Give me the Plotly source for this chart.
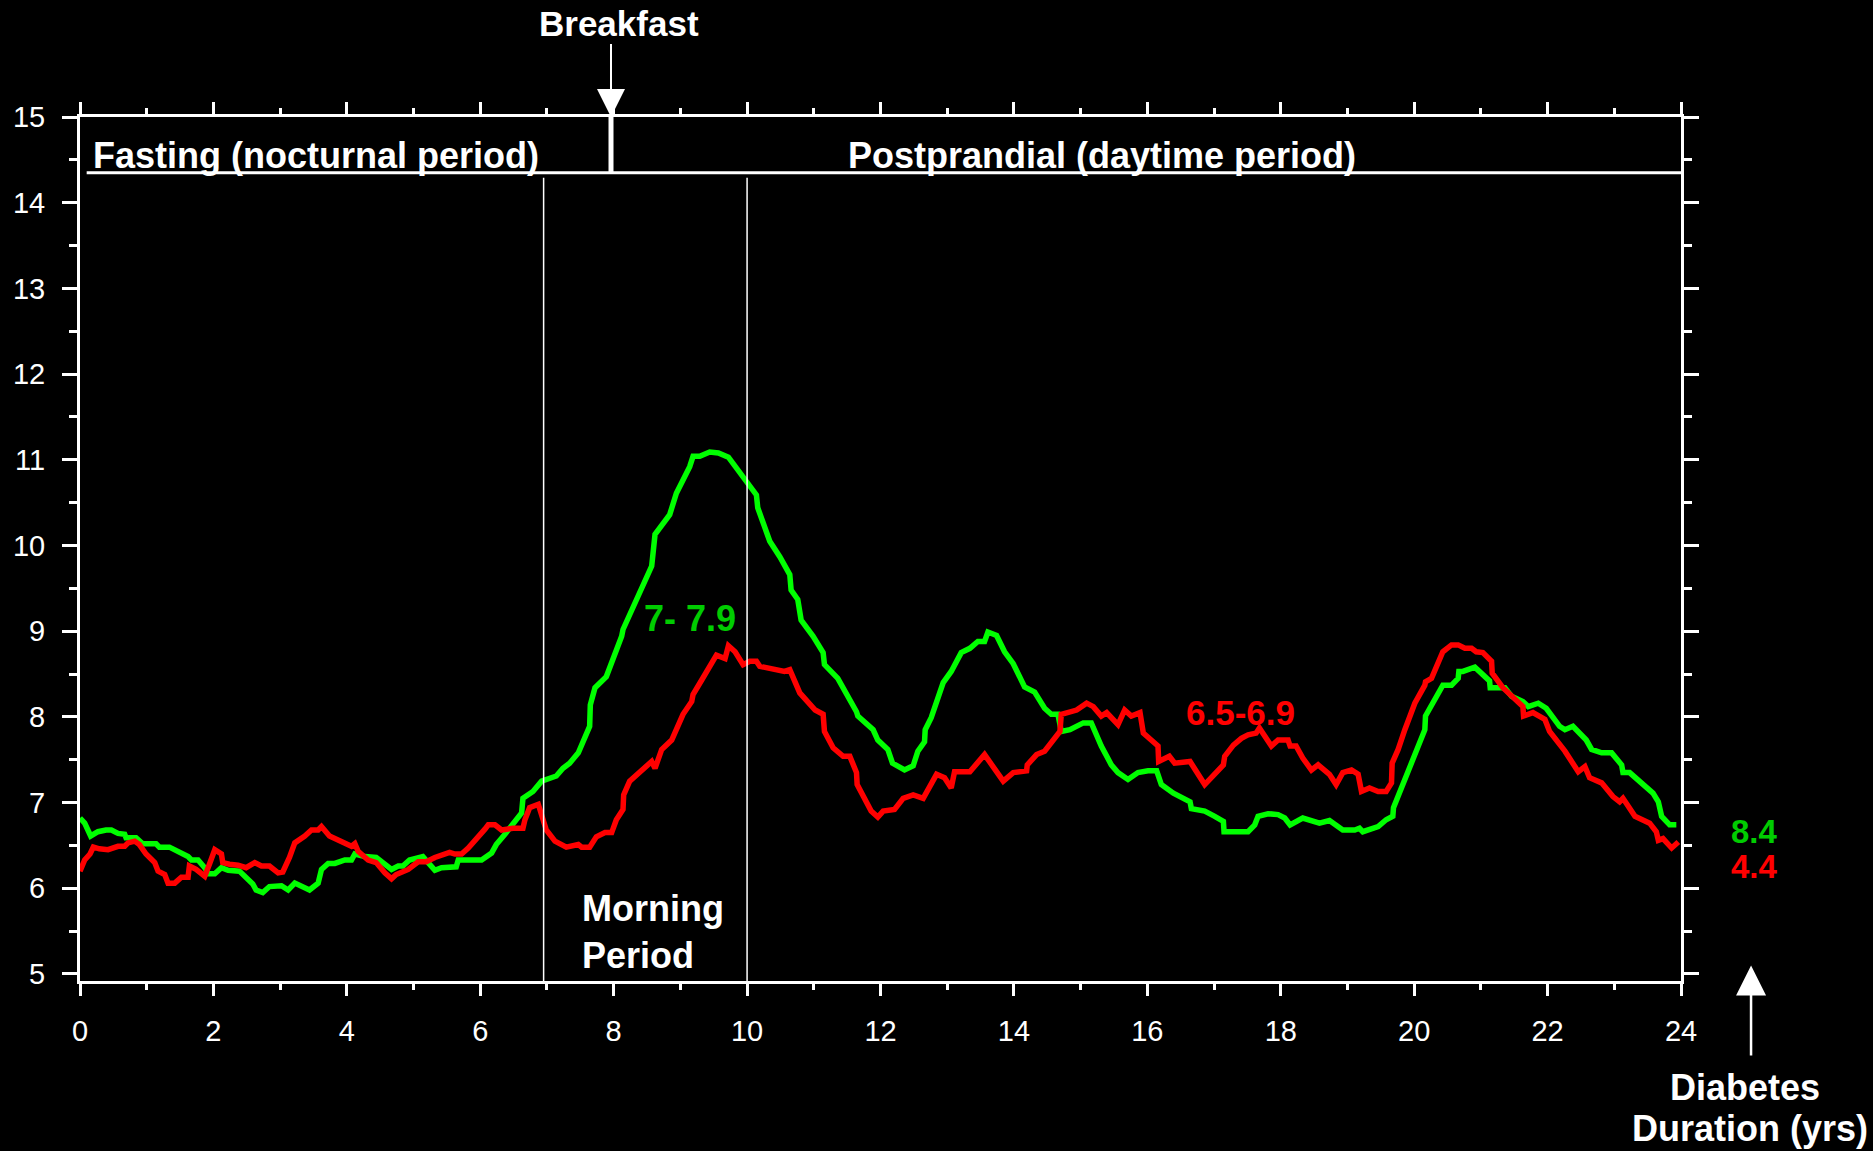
import plotly.graph_objects as go

# ---- data (hour of day, mmol/L) ----
green_x = [0.00,0.07,0.16,0.27,0.39,0.47,0.57,0.67,0.69,0.84,0.94,1.14,1.19,1.34,1.62,1.67,1.77,1.87,1.92,2.02,
           2.12,2.22,2.39,2.49,2.59,2.64,2.74,2.84,3.02,3.12,3.22,3.44,3.57,3.62,3.72,3.82,3.97,4.07,4.12,4.27,
           4.44,4.67,4.77,4.84,4.94,5.14,5.22,5.32,5.42,5.64,5.67,6.02,6.17,6.24,6.37,6.49,6.62,6.64,6.79,6.92,
           7.14,7.24,7.34,7.47,7.59,7.64,7.65,7.72,7.89,7.99,8.12,8.14,8.34,8.47,8.57,8.62,8.77,8.84,8.94,9.14,
           9.19,9.29,9.44,9.57,9.72,9.99,10.14,10.16,10.29,10.34,10.49,10.64,10.66,10.76,10.81,10.99,11.14,11.16,11.36,11.49,
           11.64,11.66,11.89,11.96,12.11,12.18,12.36,12.49,12.56,12.66,12.67,12.76,12.94,13.06,13.21,13.34,13.46,13.56,13.61,13.74,
           13.86,13.99,14.16,14.31,14.46,14.56,14.66,14.71,14.84,15.04,15.16,15.31,15.46,15.56,15.71,15.86,16.01,16.14,16.21,16.39,
           16.64,16.66,16.86,17.01,17.14,17.15,17.51,17.61,17.66,17.81,17.96,18.06,18.14,18.33,18.58,18.73,18.93,19.11,19.18,19.23,
           19.36,19.46,19.58,19.68,19.69,19.88,20.03,20.16,20.17,20.31,20.43,20.56,20.66,20.67,20.73,20.91,21.03,21.13,21.14,21.36,
           21.46,21.63,21.71,21.86,21.98,22.18,22.26,22.38,22.58,22.66,22.81,22.96,23.11,23.13,23.23,23.58,23.66,23.71,23.83,23.93]
green_y = [6.82,6.76,6.61,6.66,6.68,6.68,6.64,6.63,6.59,6.59,6.52,6.52,6.48,6.48,6.37,6.33,6.33,6.24,6.17,6.17,
           6.24,6.21,6.20,6.12,6.05,5.98,5.95,6.02,6.03,5.98,6.06,5.98,6.06,6.22,6.29,6.29,6.33,6.33,6.40,6.37,
           6.36,6.22,6.26,6.26,6.33,6.37,6.29,6.21,6.24,6.25,6.33,6.33,6.41,6.51,6.63,6.76,6.88,7.05,7.13,7.25,
           7.31,7.40,7.46,7.58,7.83,7.89,8.14,8.34,8.47,8.67,8.94,9.02,9.37,9.56,9.76,10.13,10.28,10.36,10.61,10.92,
           11.04,11.04,11.09,11.08,11.03,10.75,10.59,10.44,10.18,10.05,9.87,9.66,9.48,9.37,9.13,8.94,8.75,8.61,8.45,8.28,
           8.06,8.01,7.85,7.73,7.62,7.46,7.38,7.43,7.60,7.71,7.85,7.99,8.40,8.53,8.75,8.80,8.88,8.88,8.99,8.95,
           8.76,8.62,8.35,8.29,8.10,8.03,8.03,7.83,7.85,7.93,7.93,7.66,7.44,7.35,7.27,7.35,7.37,7.37,7.21,7.11,
           7.01,6.93,6.90,6.84,6.78,6.66,6.66,6.74,6.84,6.87,6.86,6.82,6.74,6.82,6.76,6.79,6.68,6.68,6.70,6.66,
           6.70,6.72,6.80,6.84,6.94,7.31,7.60,7.85,8.01,8.20,8.37,8.37,8.45,8.53,8.53,8.58,8.50,8.42,8.34,8.34,
           8.24,8.18,8.12,8.16,8.10,7.89,7.85,7.89,7.73,7.62,7.58,7.58,7.44,7.35,7.35,7.11,7.01,6.84,6.74,6.74]

red_x = [0.00,0.07,0.15,0.20,0.29,0.42,0.57,0.67,0.72,0.82,0.89,0.99,1.12,1.17,1.27,1.32,1.42,1.52,1.62,1.64,
         1.74,1.87,1.94,2.02,2.12,2.14,2.24,2.37,2.49,2.62,2.72,2.84,2.97,3.04,3.14,3.22,3.37,3.47,3.57,3.62,
         3.74,3.92,4.07,4.12,4.17,4.32,4.44,4.57,4.67,4.74,4.92,5.07,5.19,5.32,5.54,5.62,5.72,5.82,5.92,6.07,
         6.12,6.22,6.32,6.49,6.64,6.67,6.74,6.87,6.99,7.12,7.29,7.47,7.52,7.64,7.74,7.87,7.97,8.04,8.14,8.15,
         8.24,8.57,8.62,8.72,8.87,9.04,9.17,9.19,9.32,9.54,9.67,9.72,9.82,9.94,10.04,10.14,10.19,10.39,10.49,10.56,
         10.64,10.69,10.79,11.02,11.14,11.16,11.29,11.44,11.54,11.64,11.65,11.86,11.96,12.04,12.21,12.34,12.49,12.64,12.84,12.96,
         13.06,13.11,13.34,13.56,13.84,13.99,14.19,14.20,14.34,14.46,14.69,14.71,14.94,15.09,15.19,15.31,15.39,15.56,15.66,15.76,
         15.89,15.94,16.16,16.17,16.33,16.41,16.64,16.86,16.99,17.14,17.16,17.29,17.41,17.51,17.63,17.68,17.86,17.96,18.11,18.14,
         18.23,18.33,18.46,18.56,18.73,18.83,18.93,19.06,19.16,19.21,19.33,19.46,19.58,19.66,19.67,19.76,19.86,20.01,20.16,20.17,
         20.26,20.43,20.56,20.66,20.76,20.86,20.93,21.03,21.16,21.17,21.33,21.53,21.63,21.64,21.78,21.96,22.03,22.26,22.46,22.56,
         22.63,22.81,22.98,23.08,23.13,23.31,23.53,23.63,23.66,23.73,23.86,23.96]
red_y = [6.20,6.33,6.40,6.48,6.46,6.45,6.49,6.49,6.53,6.55,6.51,6.40,6.30,6.20,6.16,6.06,6.06,6.13,6.13,6.26,
         6.22,6.14,6.28,6.45,6.40,6.30,6.28,6.27,6.24,6.30,6.26,6.26,6.18,6.19,6.36,6.53,6.61,6.68,6.68,6.72,
         6.61,6.55,6.49,6.52,6.43,6.33,6.30,6.18,6.11,6.16,6.22,6.31,6.31,6.36,6.42,6.40,6.40,6.47,6.55,6.69,
         6.74,6.74,6.68,6.70,6.70,6.80,6.94,6.98,6.68,6.55,6.48,6.51,6.48,6.48,6.60,6.65,6.65,6.80,6.92,7.09,
         7.25,7.48,7.40,7.62,7.73,8.03,8.18,8.26,8.43,8.72,8.68,8.83,8.76,8.61,8.65,8.65,8.59,8.55,8.53,8.53,
         8.55,8.45,8.28,8.08,8.03,7.83,7.64,7.54,7.54,7.35,7.21,6.90,6.83,6.90,6.92,7.05,7.09,7.05,7.33,7.29,
         7.17,7.36,7.36,7.56,7.25,7.35,7.37,7.44,7.56,7.60,7.83,8.03,8.08,8.16,8.12,8.01,8.05,7.91,8.08,8.01,
         8.05,7.81,7.66,7.48,7.54,7.46,7.48,7.21,7.31,7.44,7.54,7.67,7.75,7.79,7.81,7.87,7.66,7.73,7.73,7.66,
         7.66,7.52,7.38,7.44,7.33,7.21,7.35,7.38,7.33,7.13,7.17,7.13,7.13,7.23,7.46,7.62,7.85,8.16,8.37,8.41,
         8.45,8.76,8.84,8.84,8.80,8.80,8.76,8.75,8.65,8.51,8.34,8.20,8.12,8.01,8.05,7.97,7.83,7.60,7.36,7.42,
         7.29,7.23,7.07,7.01,7.05,6.84,6.76,6.66,6.56,6.58,6.47,6.54]

x_ticks = [0, 2, 4, 6, 8, 10, 12, 14, 16, 18, 20, 22, 24]
y_ticks = [5, 6, 7, 8, 9, 10, 11, 12, 13, 14, 15]

GREEN = "#00FF00"
RED = "#FF0000"
LABEL_GREEN = "#00CC00"
WHITE = "#FFFFFF"
FONT = "Arial, 'Liberation Sans', sans-serif"

X_RANGE = [0, 24]
Y_RANGE = [4.918, 15]


def px_(x):
    """hour position -> paper fraction (works outside the axis range)"""
    return (x - X_RANGE[0]) / (X_RANGE[1] - X_RANGE[0])


def py_(y):
    """glucose position -> paper fraction (works outside the axis range)"""
    return (y - Y_RANGE[0]) / (Y_RANGE[1] - Y_RANGE[0])


fig = go.Figure()
fig.add_trace(go.Scatter(x=green_x, y=green_y, mode="lines",
                         line=dict(color=GREEN, width=5.5), showlegend=False, hoverinfo="skip"))
fig.add_trace(go.Scatter(x=red_x, y=red_y, mode="lines",
                         line=dict(color=RED, width=5.5), showlegend=False, hoverinfo="skip"))

# ---- structural lines ----
shapes = [
    dict(type="line", xref="x", yref="y", x0=0.1, x1=24, y0=14.35, y1=14.35,
         line=dict(color=WHITE, width=3)),
    dict(type="line", xref="x", yref="y", x0=7.96, x1=7.96, y0=15, y1=14.35,
         line=dict(color=WHITE, width=5)),
    dict(type="line", xref="x", yref="y", x0=6.95, x1=6.95, y0=14.29, y1=Y_RANGE[0],
         line=dict(color=WHITE, width=1.5)),
    dict(type="line", xref="x", yref="y", x0=10.0, x1=10.0, y0=14.29, y1=Y_RANGE[0],
         line=dict(color=WHITE, width=1.5)),
]


def bold(size, color=WHITE):
    return dict(family=FONT, size=size, color=color, weight="bold")


annotations = [
    dict(x=0.17, y=14.55, xref="x", yref="y", text="<b>Fasting (nocturnal period)</b>",
         showarrow=False, xanchor="left", yanchor="middle", font=bold(36)),
    dict(x=15.32, y=14.55, xref="x", yref="y", text="<b>Postprandial (daytime period)</b>",
         showarrow=False, xanchor="center", yanchor="middle", font=bold(36)),
    dict(x=px_(8.08), y=py_(16.09), xref="paper", yref="paper", text="<b>Breakfast</b>",
         showarrow=False, xanchor="center", yanchor="middle", font=bold(35)),
    dict(x=px_(7.96), y=py_(15.0), xref="paper", yref="paper", text=" ", showarrow=True,
         font=dict(size=1), borderpad=0,
         ax=0, ay=-74, arrowhead=2, arrowsize=2.8, arrowwidth=2, arrowcolor=WHITE),
    dict(x=9.15, y=9.15, xref="x", yref="y", text="<b>7- 7.9</b>",
         showarrow=False, xanchor="center", yanchor="middle", font=bold(36, LABEL_GREEN)),
    dict(x=17.4, y=8.05, xref="x", yref="y", text="<b>6.5-6.9</b>",
         showarrow=False, xanchor="center", yanchor="middle", font=bold(35, RED)),
    dict(x=7.5, y=5.49, xref="x", yref="y", text="<b>Morning<br>Period</b>",
         showarrow=False, xanchor="left", yanchor="middle", align="left", font=bold(36)),
    dict(x=px_(25.1), y=py_(6.66), xref="paper", yref="paper", text="<b>8.4</b>",
         showarrow=False, xanchor="center", yanchor="middle", font=bold(33, LABEL_GREEN)),
    dict(x=px_(25.1), y=py_(6.25), xref="paper", yref="paper", text="<b>4.4</b>",
         showarrow=False, xanchor="center", yanchor="middle", font=bold(33, RED)),
    dict(x=px_(25.05), y=py_(5.10), xref="paper", yref="paper", text=" ", showarrow=True,
         font=dict(size=1), borderpad=0,
         ax=0, ay=91, arrowhead=2, arrowsize=2.4, arrowwidth=2.5, arrowcolor=WHITE),
    dict(x=px_(24.96), y=py_(3.675), xref="paper", yref="paper", text="<b>Diabetes</b>",
         showarrow=False, xanchor="center", yanchor="middle", borderpad=0, font=bold(36)),
    dict(x=px_(25.03), y=py_(3.195), xref="paper", yref="paper", text="<b>Duration (yrs)</b>",
         showarrow=False, xanchor="center", yanchor="middle", borderpad=0, font=bold(36)),
]

axis_common = dict(showline=True, linecolor=WHITE, linewidth=3, mirror="ticks",
                   ticks="outside", tickcolor=WHITE, tickwidth=3,
                   showgrid=False, zeroline=False,
                   tickfont=dict(family=FONT, size=29, color=WHITE))

fig.update_layout(
    width=1873, height=1151,
    margin=dict(l=80, r=192, t=117, b=170),
    paper_bgcolor="black", plot_bgcolor="black",
    shapes=shapes, annotations=annotations,
    xaxis=dict(range=X_RANGE, tickvals=x_ticks, ticktext=[str(v) for v in x_ticks],
               ticklen=12, minor=dict(dtick=1, tick0=0, ticks="outside", ticklen=6,
                                       tickcolor=WHITE, tickwidth=3),
               ticklabelstandoff=10, **axis_common),
    yaxis=dict(range=Y_RANGE, tickvals=y_ticks, ticktext=[str(v) for v in y_ticks],
               ticklen=15, minor=dict(dtick=0.5, tick0=0, ticks="outside", ticklen=8,
                                       tickcolor=WHITE, tickwidth=3),
               ticklabelstandoff=11, **axis_common),
)

fig.write_html("out.html")
